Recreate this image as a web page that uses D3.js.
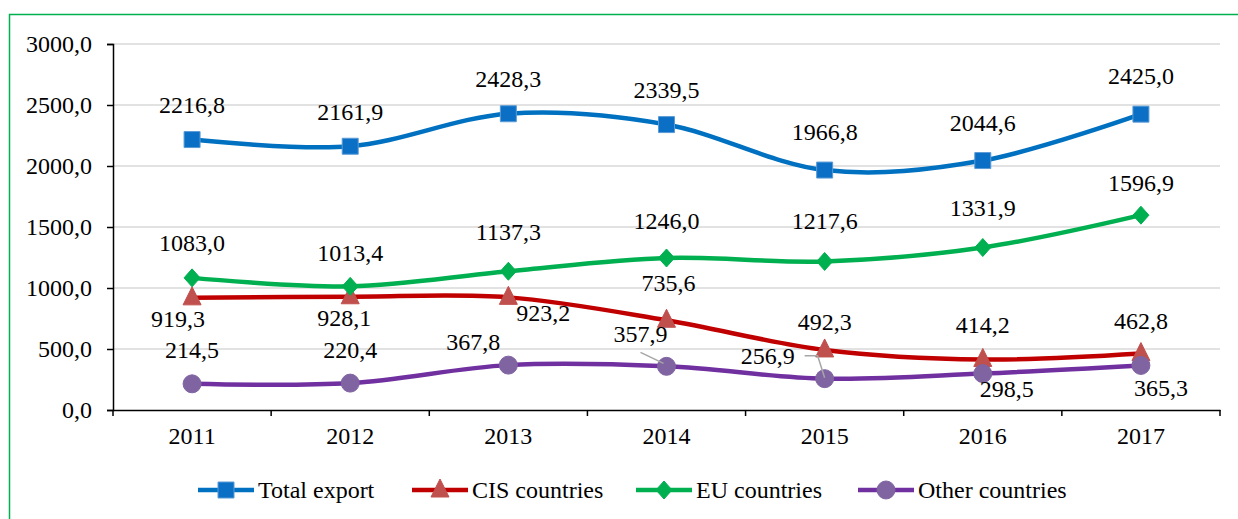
<!DOCTYPE html>
<html lang="en">
<head>
<meta charset="UTF-8">
<title>Export</title>
<script src="https://d3js.org/d3.v7.min.js"></script>
<style>
  body { margin: 0; background: #fff; }
  svg text { font-family: 'Liberation Serif', 'DejaVu Serif', 'Times New Roman', serif; fill: #000; }
</style>
</head>
<body>
<div class="canvas"></div>
<script>
const years = ['2011', '2012', '2013', '2014', '2015', '2016', '2017']
const totalExport = [2216.8, 2161.9, 2428.3, 2339.5, 1966.8, 2044.6, 2425.0]
const cisCountries = [919.3, 928.1, 923.2, 735.6, 492.3, 414.2, 462.8]
const euCountries = [1083.0, 1013.4, 1137.3, 1246.0, 1217.6, 1331.9, 1596.9]
const otherCountries = [214.5, 220.4, 367.8, 357.9, 256.9, 298.5, 365.3]
const yTicks = [0, 500, 1000, 1500, 2000, 2500, 3000]

const width = 1238
const height = 519
const [mt, ml] = [44, 113]
const graphWidth = 1107
const graphHeight = 366
const fontFamily = "'Liberation Serif', 'DejaVu Serif', serif"
const fontSize = '24px'

// label offsets [dx, dy] from the marker, per point
const series = [
  { name: 'Total export', values: totalExport, line: '#0070C0', fill: '#0B6FC6', stroke: '#5B9BD5', shape: 'square',
    labels: [[0,-35],[0,-34],[0,-35],[0,-35],[0,-38],[0,-38],[0,-38]] },
  { name: 'CIS countries', values: cisCountries, line: '#C00000', fill: '#C0504D', stroke: '#C0504D', shape: 'triangle',
    labels: [[-14,21],[-6,21],[35,16],[2,-37],[0,-28],[0,-34],[0,-33]] },
  { name: 'EU countries', values: euCountries, line: '#00B050', fill: '#00B050', stroke: '#00B050', shape: 'diamond',
    labels: [[0,-35],[0,-33],[0,-39],[0,-37],[0,-40],[0,-40],[0,-32]] },
  { name: 'Other countries', values: otherCountries, line: '#7030A0', fill: '#8064A2', stroke: '#8064A2', shape: 'circle',
    labels: [[0,-34],[0,-33],[-35,-23],[-26,-32],[-57,-23],[24,15],[20,23]],
    leaders: [null, null, null, 'diag', 'elbow', null, null] }
]

const locale = d3.formatLocale({ decimal: ',', thousands: '', grouping: [3], currency: ['', ''] })
const fmt = locale.format('.1f')

const svg = d3.select('.canvas').append('svg')
  .attr('width', width)
  .attr('height', height)
  .style('font-family', fontFamily)

// outer green frame
svg.append('rect')
  .attr('x', 9.5).attr('y', 14.5)
  .attr('width', width + 10).attr('height', height + 10)
  .attr('fill', 'none')
  .attr('stroke', '#00B050')
  .attr('stroke-width', 1.5)

const graph = svg.append('g').attr('transform', `translate(${ml}, ${mt})`)

const x = d3.scaleBand().domain(years).range([0, graphWidth])
const y = d3.scaleLinear().domain([0, 3000]).range([graphHeight, 0])
const cx = d => x(d) + x.bandwidth() / 2

// gridlines
graph.append('g').selectAll('line')
  .data(yTicks.filter(t => t > 0))
  .enter().append('line')
  .attr('x1', 0).attr('x2', graphWidth)
  .attr('y1', d => y(d)).attr('y2', d => y(d))
  .attr('stroke', '#D9D9D9')
  .attr('stroke-width', 1.5)

// y axis
const yAxis = d3.axisLeft(y).tickValues(yTicks).tickSize(6).tickPadding(15).tickFormat(fmt)
const yAxisG = graph.append('g').call(yAxis).attr('font-family', fontFamily)
yAxisG.select('.domain').attr('stroke', '#000').attr('stroke-width', 1.5)
yAxisG.selectAll('.tick line').attr('stroke', '#000').attr('stroke-width', 1.5)
yAxisG.selectAll('text').style('font-size', fontSize).attr('fill', '#000')

// x axis
const xAxis = d3.axisBottom(x).tickSize(0).tickPadding(17)
const xAxisG = graph.append('g').attr('transform', `translate(0, ${graphHeight})`).call(xAxis)
  .attr('font-family', fontFamily)
xAxisG.select('.domain').attr('stroke', '#000').attr('stroke-width', 1.5)
xAxisG.selectAll('text').style('font-size', fontSize).attr('fill', '#000')
xAxisG.selectAll('.boundary')
  .data(d3.range(years.length + 1))
  .enter().append('line')
  .attr('x1', i => i * x.step()).attr('x2', i => i * x.step())
  .attr('y1', 0).attr('y2', 6)
  .attr('stroke', '#000').attr('stroke-width', 1.5)

const markerPath = (shape) => {
  if (shape === 'square') return 'M-8,-8H8V8H-8Z'
  if (shape === 'triangle') return 'M0,-11L9,7H-9Z'
  if (shape === 'diamond') return 'M0,-9L8,0L0,9L-8,0Z'
  return d3.symbol(d3.symbolCircle, 254)()
}

const line = d3.line()
  .x((d, i) => cx(years[i]))
  .y(d => y(d))
  .curve(d3.curveCardinal.tension(0))

series.forEach(s => {
  graph.append('path')
    .attr('fill', 'none')
    .attr('stroke', s.line)
    .attr('stroke-width', 4.5)
    .attr('stroke-linejoin', 'round')
    .attr('d', line(s.values))
})

series.forEach(s => {
  graph.append('g').selectAll('path')
    .data(s.values)
    .enter().append('path')
    .attr('transform', (d, i) => `translate(${cx(years[i])}, ${y(d)})`)
    .attr('d', markerPath(s.shape))
    .attr('fill', s.fill)
    .attr('stroke', s.stroke)
    .attr('stroke-width', 1)
})

// leader lines
series.forEach(s => {
  if (!s.leaders) return
  s.values.forEach((v, i) => {
    const kind = s.leaders[i]
    if (!kind) return
    const px = cx(years[i]), py = y(v)
    const [dx, dy] = s.labels[i]
    let pts
    if (kind === 'diag') pts = [[px + dx, py + dy + 18], [px - 3, py - 3]]
    else pts = [[px + dx + 37, py + dy], [px + dx + 50, py + dy], [px, py - 1]]
    graph.append('path')
      .attr('d', d3.line()(pts))
      .attr('fill', 'none')
      .attr('stroke', '#A6A6A6')
      .attr('stroke-width', 1.5)
  })
})

// data labels
series.forEach(s => {
  graph.append('g').selectAll('text')
    .data(s.values)
    .enter().append('text')
    .attr('x', (d, i) => cx(years[i]) + s.labels[i][0])
    .attr('y', (d, i) => y(d) + s.labels[i][1])
    .attr('text-anchor', 'middle')
    .attr('dominant-baseline', 'central')
    .style('font-size', fontSize)
    .text(d => fmt(d))
})

// legend
const legendX = [198, 412, 636, 858]
const legend = svg.append('g').attr('transform', 'translate(0, 490)')
series.forEach((s, i) => {
  const g = legend.append('g').attr('transform', `translate(${legendX[i]}, 0)`)
  g.append('line')
    .attr('x1', 0).attr('x2', 56)
    .attr('stroke', s.line).attr('stroke-width', 4.5)
  g.append('path')
    .attr('transform', 'translate(28, 0)')
    .attr('d', markerPath(s.shape))
    .attr('fill', s.fill).attr('stroke', s.stroke)
  g.append('text')
    .attr('x', 60)
    .attr('dominant-baseline', 'central')
    .style('font-size', fontSize)
    .text(s.name)
})
</script>
</body>
</html>
